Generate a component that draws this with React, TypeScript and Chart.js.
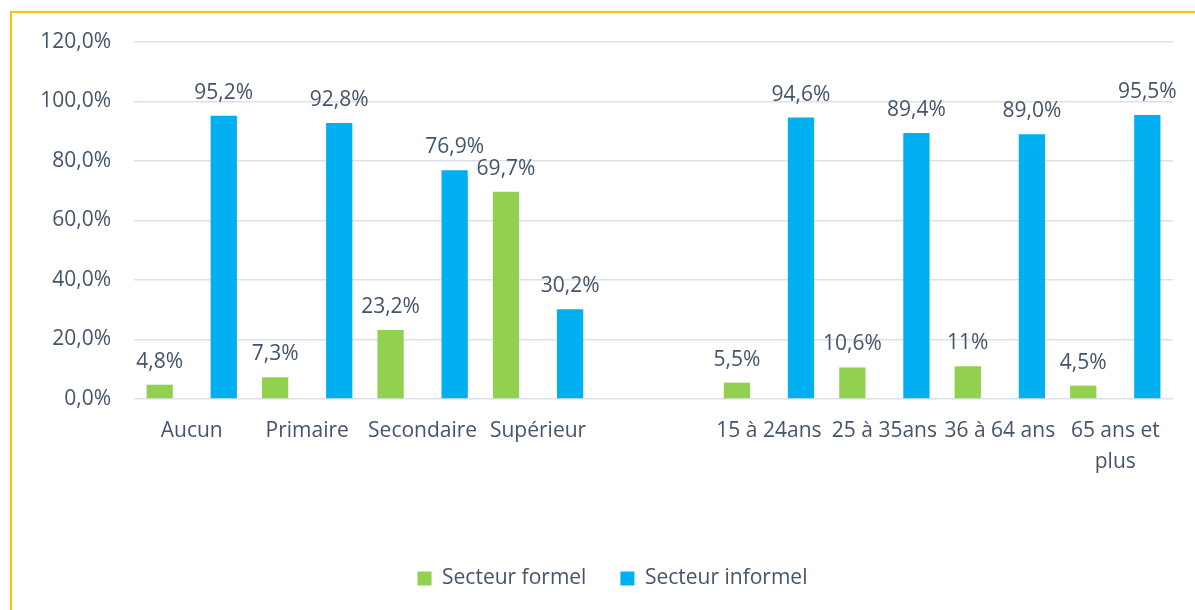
import React, { useEffect, useRef } from "react";
import { Chart, registerables } from "chart.js";

Chart.register(...registerables);

const categories: (string | string[])[] = [
  "Aucun",
  "Primaire",
  "Secondaire",
  "Supérieur",
  "",
  "15 à 24ans",
  "25 à 35ans",
  "36 à 64 ans",
  ["65 ans et", "plus"],
];

const formelValues: (number | null)[] = [4.8, 7.3, 23.2, 69.7, null, 5.5, 10.6, 11, 4.5];
const informelValues: (number | null)[] = [95.2, 92.8, 76.9, 30.2, null, 94.6, 89.4, 89.0, 95.5];

const formelLabels: string[] = ["4,8%", "7,3%", "23,2%", "69,7%", "", "5,5%", "10,6%", "11%", "4,5%"];
const informelLabels: string[] = ["95,2%", "92,8%", "76,9%", "30,2%", "", "94,6%", "89,4%", "89,0%", "95,5%"];

const seriesNames: string[] = ["Secteur formel", "Secteur informel"];
const yTicks: number[] = [0, 20, 40, 60, 80, 100, 120];

const TEXT = "#44546A";
const FONT = "'Open Sans', sans-serif";
const FS = 21;

const valueLabelPlugin = {
  id: "valueLabels",
  afterDatasetsDraw(chart: any) {
    const ctx = chart.ctx;
    const allLabels = [formelLabels, informelLabels];
    ctx.save();
    ctx.font = `${FS}px ${FONT}`;
    ctx.fillStyle = TEXT;
    ctx.textAlign = "center";
    ctx.textBaseline = "alphabetic";
    chart.data.datasets.forEach((ds: any, di: number) => {
      const meta = chart.getDatasetMeta(di);
      meta.data.forEach((el: any, i: number) => {
        const txt = allLabels[di][i];
        if (!txt || ds.data[i] == null) return;
        ctx.fillText(txt, el.x, el.y - 17);
      });
    });
    ctx.restore();
  },
};

const legendShiftPlugin = {
  id: "legendShift",
  afterLayout(chart: any) {
    if (chart.legend) {
      chart.legend.left += 6;
      chart.legend.right += 6;
    }
  },
};

export default function App() {
  const canvasRef = useRef<HTMLCanvasElement | null>(null);

  useEffect(() => {
    if (!canvasRef.current) return;
    const chart = new Chart(canvasRef.current, {
      type: "bar",
      data: {
        labels: categories,
        datasets: [
          {
            label: seriesNames[0],
            data: formelValues,
            backgroundColor: "#92D050",
            categoryPercentage: 1.11,
            barPercentage: 0.41,
          },
          {
            label: seriesNames[1],
            data: informelValues,
            backgroundColor: "#00B0F0",
            categoryPercentage: 1.11,
            barPercentage: 0.41,
          },
        ],
      },
      options: {
        animation: false,
        responsive: false,
        maintainAspectRatio: false,
        layout: { padding: { left: 30, right: 54, top: 42, bottom: 41 } },
        plugins: {
          tooltip: { enabled: false },
          legend: {
            position: "bottom",
            labels: {
              color: TEXT,
              font: { family: FONT, size: FS },
              boxWidth: 14,
              boxHeight: 14,
              padding: 34,
            },
          },
        },
        scales: {
          x: {
            grid: { display: false },
            border: { display: false },
            ticks: {
              color: TEXT,
              font: { family: FONT, size: FS, lineHeight: 1.45 },
              padding: 9,
              maxRotation: 0,
              autoSkip: false,
            },
            afterFit: (scale: any) => {
              scale.height = 135;
            },
          },
          y: {
            min: 0,
            max: 120,
            afterBuildTicks: (scale: any) => {
              scale.ticks = yTicks.map((v) => ({ value: v }));
            },
            grid: { color: "#DCE0E7", lineWidth: 1.5, drawTicks: false },
            border: { display: false },
            ticks: {
              color: TEXT,
              font: { family: FONT, size: FS },
              padding: 23,
              callback: (v: any) => Number(v).toFixed(1).replace(".", ",") + "%",
            },
            afterFit: (scale: any) => {
              scale.width = 94;
            },
          },
        },
      },
      plugins: [valueLabelPlugin, legendShiftPlugin],
    });
    return () => chart.destroy();
  }, []);

  return (
    <div style={{ position: "fixed", left: 0, top: 0, width: 1195, height: 610, overflow: "hidden", background: "#fff" }}>
      <div
        style={{
          position: "absolute",
          left: 10,
          top: 11,
          width: 1300,
          height: 800,
          borderTop: "2px solid #FFC000",
          borderLeft: "2px solid #FFC000",
        }}
      />
      <canvas
        ref={canvasRef}
        width={1217}
        height={640}
        style={{ position: "absolute", left: 10, top: 0, width: 1217, height: 640 }}
      />
    </div>
  );
}
